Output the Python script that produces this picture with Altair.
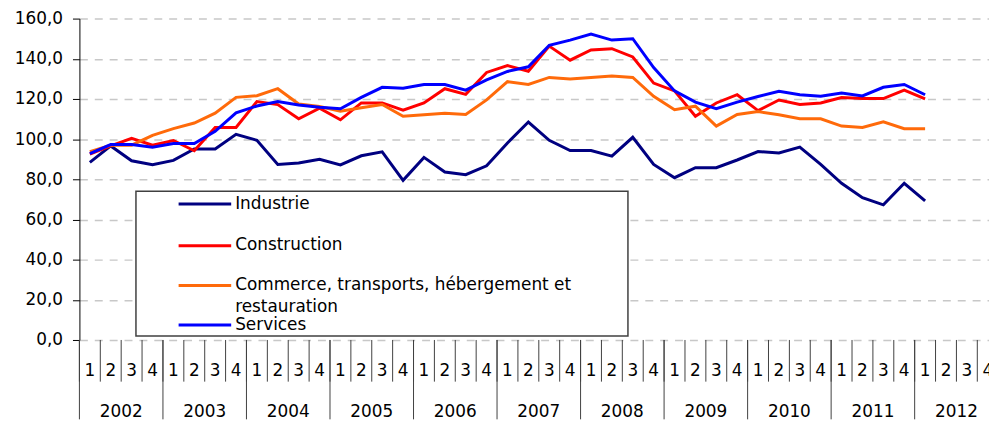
import altair as alt
import pandas as pd

# ---------------- data ----------------
series = ["Industrie", "Construction",
          "Commerce, transports, hébergement et restauration", "Services"]
legend_labels = ["Industrie", "Construction",
                 "Commerce, transports, hébergement et\nrestauration", "Services"]
colors = ["#000080", "#FF0000", "#FF6A0A", "#0000FF"]

industrie = [88.4, 96.6, 89.2, 87.2, 89.4, 95.1, 95.1, 102.4, 99.4, 87.4, 88.1,
             90.0, 87.2, 91.7, 93.7, 79.5, 90.9, 83.6, 82.3, 86.7, 98.1, 108.5,
             99.4, 94.3, 94.3, 91.5, 100.9, 87.4, 80.8, 85.8, 85.8, 89.6, 93.8,
             93.1, 96.0, 87.4, 78.0, 70.8, 67.3, 78.0, 69.3]
construction = [92.5, 96.6, 100.4, 97.0, 99.3, 94.2, 105.8, 105.8, 118.7, 117.2,
                110.1, 115.4, 109.6, 118.0, 118.0, 114.4, 118.0, 125.1, 122.3,
                133.2, 136.6, 133.8, 146.3, 139.3, 144.4, 145.0, 140.9, 127.9,
                124.0, 111.4, 118.0, 122.1, 114.2, 119.5, 117.2, 118.0, 120.7,
                120.2, 120.2, 124.4, 120.0]
commerce = [93.7, 97.0, 97.0, 101.9, 105.2, 108.0, 112.9, 120.8, 121.6, 125.1,
            117.5, 116.2, 113.9, 115.6, 117.2, 111.4, 112.1, 112.9, 112.3, 119.5,
            128.6, 127.2, 130.7, 129.9, 130.7, 131.4, 130.7, 121.3, 114.6, 116.4,
            106.5, 112.3, 113.7, 112.1, 110.1, 110.1, 106.5, 105.8, 108.6, 105.2,
            105.2]
services = [92.8, 97.3, 97.3, 96.0, 97.8, 97.8, 103.9, 113.1, 116.5, 118.7, 117.0,
            115.9, 115.1, 120.8, 125.8, 125.3, 127.2, 127.2, 124.4, 129.5, 133.7,
            136.0, 146.7, 149.3, 152.3, 149.3, 150.0, 135.6, 124.0, 118.4, 115.1,
            118.4, 121.2, 123.8, 122.1, 121.3, 123.0, 121.5, 125.8, 127.2, 122.1]

quarter_labels = ["1", "2", "3", "4"] * 11
year_labels = ["2002", "2003", "2004", "2005", "2006", "2007",
               "2008", "2009", "2010", "2011", "2012"]
y_ticks = [0, 20, 40, 60, 80, 100, 120, 140, 160]

# ---------------- tables ----------------
rows = []
for name, vals in zip(series, [industrie, construction, commerce, services]):
    for i, v in enumerate(vals):
        rows.append({"x": i + 0.5, "value": v, "serie": name})
df = pd.DataFrame(rows)

dq = pd.DataFrame({"x": [i + 0.5 for i in range(len(quarter_labels))],
                   "lab": quarter_labels})
dqb = pd.DataFrame({"x": [float(i) for i in range(len(quarter_labels) + 1)]})
dy = pd.DataFrame({"x": [4 * k + 2.0 for k in range(len(year_labels))],
                   "lab": year_labels})
dyb = pd.DataFrame({"x": [4.0 * k for k in range(len(year_labels) + 1)]})

# legend layout (pixels inside plot area)
leg_line_y = [187, 229, 269, 309]
leg_text_y = [192, 233, 274, 314]
dleg = pd.DataFrame({"serie": series, "lab": legend_labels,
                     "ly": leg_line_y, "ty": leg_text_y})

FONT = "DejaVu Sans"
W, H = 917, 324
xscale = alt.Scale(domain=[0, 43.56], nice=False, zero=False)
yscale = alt.Scale(domain=[0, 160], nice=False)
cscale = alt.Scale(domain=series, range=colors)

lines = alt.Chart(df).mark_line(strokeWidth=3).encode(
    x=alt.X("x:Q", scale=xscale,
            axis=alt.Axis(labels=False, ticks=False, grid=False, title=None,
                          domainColor="#000000", domainWidth=1)),
    y=alt.Y("value:Q", scale=yscale,
            axis=alt.Axis(values=y_ticks, title=None, grid=True,
                          gridDash=[8, 7], gridColor="#C8C8C8", gridWidth=1.5,
                          domainColor="#000000", tickColor="#000000",
                          tickSize=7, labelPadding=10, labelFontSize=17,
                          labelFont=FONT, labelColor="#000000",
                          labelExpr="replace(format(datum.value, '.1f'), '.', ',')")),
    color=alt.Color("serie:N", scale=cscale, legend=None),
    detail="serie:N",
)

qticks = alt.Chart(dqb).mark_rule(color="#404040", strokeWidth=1).encode(
    x=alt.X("x:Q", scale=xscale, axis=None),
    y=alt.value(H), y2=alt.value(H + 42),
)
yticks = alt.Chart(dyb).mark_rule(color="#404040", strokeWidth=1).encode(
    x=alt.X("x:Q", scale=xscale, axis=None),
    y=alt.value(H), y2=alt.value(H + 80),
)
qtext = alt.Chart(dq).mark_text(fontSize=17, font=FONT, color="#000000",
                                baseline="alphabetic", align="center").encode(
    x=alt.X("x:Q", scale=xscale, axis=None),
    y=alt.value(360), text="lab:N",
)
ytext = alt.Chart(dy).mark_text(fontSize=17, font=FONT, color="#000000",
                                baseline="alphabetic", align="center").encode(
    x=alt.X("x:Q", scale=xscale, axis=None),
    y=alt.value(402), text="lab:N",
)

legbox = alt.Chart(dleg.head(1)).mark_rect(fill="white", stroke="#404040",
                                           strokeWidth=1.5).encode(
    x=alt.value(57), x2=alt.value(553), y=alt.value(174), y2=alt.value(320),
)
legrule = alt.Chart(dleg).mark_rule(strokeWidth=3).encode(
    x=alt.value(100), x2=alt.value(153),
    y=alt.Y("ly:Q", scale=None, axis=None),
    color=alt.Color("serie:N", scale=cscale, legend=None),
)
legtext = alt.Chart(dleg).mark_text(fontSize=17, font=FONT, color="#000000",
                                    align="left", baseline="alphabetic",
                                    lineBreak="\n", lineHeight=22).encode(
    x=alt.value(157),
    y=alt.Y("ty:Q", scale=None, axis=None),
    text="lab:N",
)

chart = alt.layer(lines, qticks, yticks, qtext, ytext, legbox, legrule, legtext).properties(
    width=W, height=H,
    autosize=alt.AutoSizeParams(type="none"),
    padding={"left": 72, "top": 9, "right": 0, "bottom": 80},
    background="white",
).configure_view(stroke=None)

chart.save("out.html", embed_options={"renderer": "svg", "actions": False})
